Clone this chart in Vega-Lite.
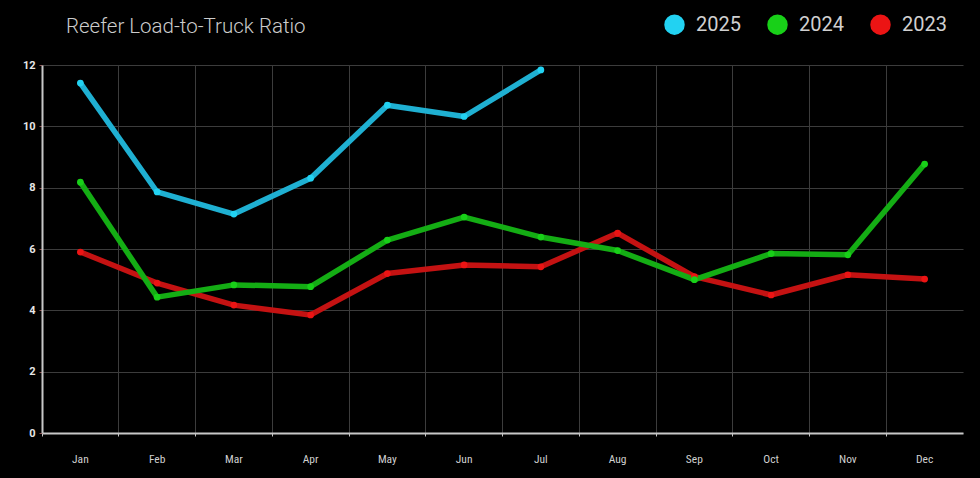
{
  "$schema": "https://vega.github.io/schema/vega-lite/v6.json",
  "width": 921,
  "height": 368,
  "autosize": {"type": "none"},
  "padding": {"left": 42, "top": 65, "right": 17, "bottom": 45},
  "background": "#000000",
  "config": {"view": {"stroke": null}, "font": "Roboto"},
  "title": {
    "text": "Reefer Load-to-Truck Ratio",
    "anchor": "start",
    "frame": "group",
    "dx": 24,
    "offset": -23,
    "fontSize": 20.5,
    "fontWeight": 300,
    "font": "Roboto",
    "color": "#cccccc"
  },
  "data": {
    "values": [
      {"month": "Jan", "year": "2023", "ratio": 5.90},
      {"month": "Feb", "year": "2023", "ratio": 4.89},
      {"month": "Mar", "year": "2023", "ratio": 4.17},
      {"month": "Apr", "year": "2023", "ratio": 3.85},
      {"month": "May", "year": "2023", "ratio": 5.20},
      {"month": "Jun", "year": "2023", "ratio": 5.48},
      {"month": "Jul", "year": "2023", "ratio": 5.42},
      {"month": "Aug", "year": "2023", "ratio": 6.52},
      {"month": "Sep", "year": "2023", "ratio": 5.10},
      {"month": "Oct", "year": "2023", "ratio": 4.50},
      {"month": "Nov", "year": "2023", "ratio": 5.16},
      {"month": "Dec", "year": "2023", "ratio": 5.02},
      {"month": "Jan", "year": "2024", "ratio": 8.18},
      {"month": "Feb", "year": "2024", "ratio": 4.43},
      {"month": "Mar", "year": "2024", "ratio": 4.83},
      {"month": "Apr", "year": "2024", "ratio": 4.77},
      {"month": "May", "year": "2024", "ratio": 6.29},
      {"month": "Jun", "year": "2024", "ratio": 7.04},
      {"month": "Jul", "year": "2024", "ratio": 6.39},
      {"month": "Aug", "year": "2024", "ratio": 5.95},
      {"month": "Sep", "year": "2024", "ratio": 5.00},
      {"month": "Oct", "year": "2024", "ratio": 5.85},
      {"month": "Nov", "year": "2024", "ratio": 5.81},
      {"month": "Dec", "year": "2024", "ratio": 8.77},
      {"month": "Jan", "year": "2025", "ratio": 11.41},
      {"month": "Feb", "year": "2025", "ratio": 7.86},
      {"month": "Mar", "year": "2025", "ratio": 7.14},
      {"month": "Apr", "year": "2025", "ratio": 8.31},
      {"month": "May", "year": "2025", "ratio": 10.69},
      {"month": "Jun", "year": "2025", "ratio": 10.32},
      {"month": "Jul", "year": "2025", "ratio": 11.84}
    ]
  },
  "encoding": {
    "x": {
      "field": "month",
      "type": "ordinal",
      "sort": ["Jan","Feb","Mar","Apr","May","Jun","Jul","Aug","Sep","Oct","Nov","Dec"],
      "bandPosition": 0.5,
      "scale": {"type": "band", "paddingInner": 0, "paddingOuter": 0},
      "axis": {
        "title": null,
        "bandPosition": 0,
        "labelAngle": 0,
        "labelColor": "#d0d0d0",
        "labelFontSize": 11.5,
        "labelFont": "Roboto Condensed, Liberation Sans Narrow, Roboto",
        "labelPadding": 17,
        "domainColor": "#c8c8c8",
        "domainWidth": 2,
        "tickColor": "#c8c8c8",
        "tickSize": 3,
        "grid": true,
        "gridColor": "#3c3c3c",
        "gridWidth": 1
      }
    },
    "y": {
      "field": "ratio",
      "type": "quantitative",
      "scale": {"domain": [0, 12], "nice": false},
      "axis": {
        "title": null,
        "values": [0, 2, 4, 6, 8, 10, 12],
        "labelColor": "#e6e6e6",
        "labelFontSize": 11,
        "labelFontWeight": "bold",
        "labelPadding": 4,
        "domainColor": "#c8c8c8",
        "domainWidth": 2,
        "tickColor": "#8a5050",
        "tickSize": 3,
        "gridColor": "#3c3c3c",
        "gridWidth": 1
      }
    }
  },
  "layer": [
    {
      "mark": {"type": "line", "strokeWidth": 5.5, "strokeCap": "round", "strokeJoin": "round"},
      "encoding": {
        "color": {
          "field": "year",
          "type": "nominal",
          "scale": {"domain": ["2025", "2024", "2023"], "range": ["#1fb0d2", "#14ad14", "#c41212"]},
          "legend": null
        },
        "order": {"field": "year", "type": "nominal"}
      }
    },
    {
      "mark": {"type": "circle", "opacity": 1, "size": 45},
      "encoding": {
        "color": {
          "field": "year",
          "type": "nominal",
          "scale": {"domain": ["2025", "2024", "2023"], "range": ["#22d2f2", "#18d018", "#ec1414"]},
          "legend": {
            "title": null,
            "orient": "none",
            "direction": "horizontal",
            "legendX": 622,
            "legendY": -51,
            "symbolType": "circle",
            "symbolSize": 420,
            "symbolStrokeWidth": 0,
            "labelFontSize": 20,
            "labelFont": "Roboto",
            "labelColor": "#d0d0d0",
            "labelOffset": 11,
            "columnPadding": 26
          }
        }
      }
    }
  ],
  "resolve": {"scale": {"color": "independent"}}
}
